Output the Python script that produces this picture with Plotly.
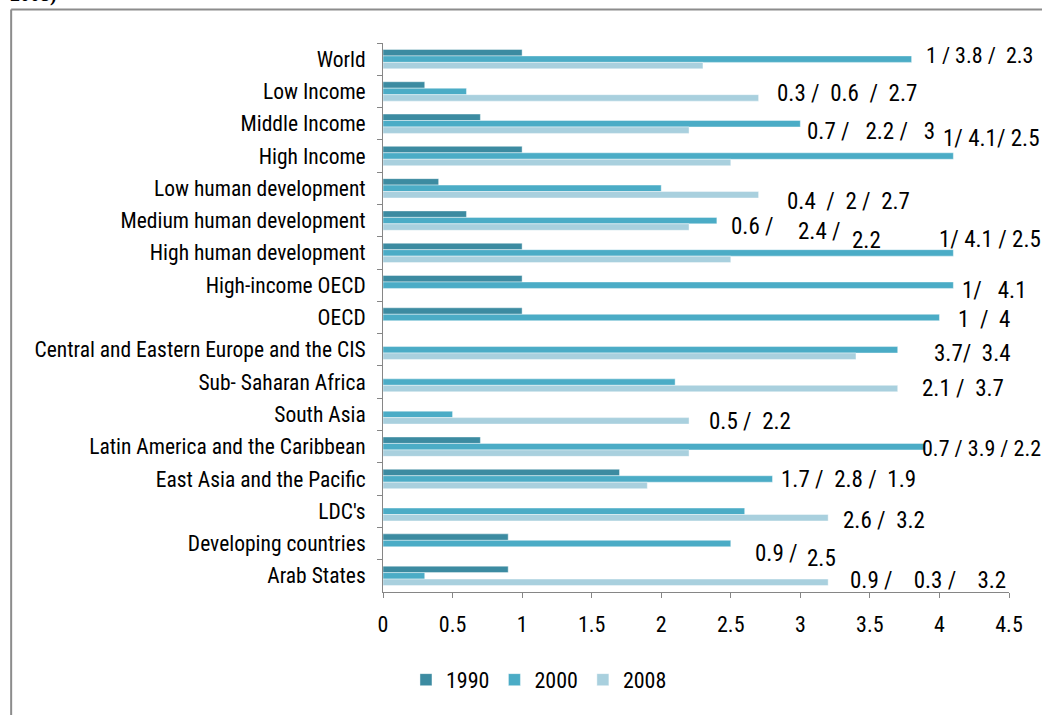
import plotly.graph_objects as go

categories = ["World", "Low Income", "Middle Income", "High Income",
              "Low human development", "Medium human development",
              "High human development", "High-income OECD", "OECD",
              "Central and Eastern Europe and the CIS", "Sub- Saharan Africa",
              "South Asia", "Latin America and the Caribbean",
              "East Asia and the Pacific", "LDC's", "Developing countries",
              "Arab States"]
years = ["1990", "2000", "2008"]
v1990 = [1, 0.3, 0.7, 1, 0.4, 0.6, 1, 1, 1, None, None, None, 0.7, 1.7, None, 0.9, 0.9]
v2000 = [3.8, 0.6, 3.0, 4.1, 2.0, 2.4, 4.1, 4.1, 4.0, 3.7, 2.1, 0.5, 3.9, 2.8, 2.6, 2.5, 0.3]
v2008 = [2.3, 2.7, 2.2, 2.5, 2.7, 2.2, 2.5, None, None, 3.4, 3.7, 2.2, 2.2, 1.9, 3.2, None, 3.2]
x_ticks = [0, 0.5, 1, 1.5, 2, 2.5, 3, 3.5, 4, 4.5]

# value label texts (as hand-placed in the original), with their category
label_texts = ["1 / 3.8 /  2.3", "0.3 /  0.6  /  2.7", "0.7 /   2.2 /   3",
               "1/ 4.1/ 2.5", "0.4  /  2 /  2.7", "0.6 /", "2.4 /", "2.2",
               "1/ 4.1 / 2.5", "1/   4.1", "1  /  4", "3.7/  3.4", "2.1 /  3.7",
               "0.5 /  2.2", "0.7 / 3.9 / 2.2", "1.7 /  2.8 /  1.9", "2.6 /  3.2",
               "0.9 /", "2.5", "0.9 /    0.3 /    3.2"]
label_cats = ["World", "Low Income", "Middle Income", "High Income",
              "Low human development", "Medium human development",
              "Medium human development", "Medium human development",
              "High human development", "High-income OECD", "OECD",
              "Central and Eastern Europe and the CIS", "Sub- Saharan Africa",
              "South Asia", "Latin America and the Caribbean",
              "East Asia and the Pacific", "LDC's", "Developing countries",
              "Developing countries", "Arab States"]
# placement (x in axis units, vertical pixel shift, font size)
label_x = [3.89, 2.82, 3.03, 4.01, 2.89, 2.49, 2.97, 3.36, 3.98, 4.15, 4.12,
           3.95, 3.86, 2.33, 3.86, 2.85, 3.29, 2.66, 3.03, 3.34]
label_dy = [4, -2, -8, 18, -13, -6, -11, -20, 13, -5, -2, -4, -6, -7, -2, -1, -9, -10, -15, -5]
label_size = [22, 23, 23, 23, 23, 23, 23, 23, 23, 23, 23, 23, 23, 23, 22, 23, 23, 23, 23, 23]

colors = ["#3C8BA1", "#4BACC6", "#A9D0DE"]
FONT = "Liberation Sans Narrow, Arial Narrow, Roboto Condensed, Liberation Sans, sans-serif"

fig = go.Figure()
for name, vals, col in zip(years, [v1990, v2000, v2008], colors):
    fig.add_trace(go.Bar(y=categories, x=vals, name=name, orientation="h",
                         marker=dict(color=col, line=dict(color="rgba(255,255,255,0.7)", width=0.6))))

annotations = []
for t, c, x, dy, s in zip(label_texts, label_cats, label_x, label_dy, label_size):
    annotations.append(dict(x=x, y=c, xref="x", yref="y", text=t, showarrow=False,
                            xanchor="left", yanchor="middle", yshift=dy,
                            font=dict(family=FONT, size=s, color="#000000")))
annotations.append(dict(x=-0.599, y=1.063, xref="paper", yref="paper", text="<b>2008)</b>",
                        showarrow=False, xanchor="left", yanchor="bottom",
                        font=dict(family="Liberation Serif, serif", size=20, color="#000")))

# outer frame lines
shapes = [
    dict(type="line", xref="paper", yref="paper", x0=-0.594, x1=1.06, y0=1.061, y1=1.061,
         line=dict(color="#8C8C8C", width=2)),
    dict(type="line", xref="paper", yref="paper", x0=-0.594, x1=-0.594, y0=1.061, y1=-0.23,
         line=dict(color="#8C8C8C", width=2)),
]

fig.update_layout(
    width=1042, height=715,
    margin=dict(l=383, r=33, t=43, b=123),
    paper_bgcolor="white", plot_bgcolor="white",
    barmode="group", bargap=0.4, bargroupgap=0,
    font=dict(family=FONT, size=18, color="#000"),
    showlegend=True,
    legend=dict(orientation="h", x=0.0367, xanchor="left", y=-0.16, yanchor="middle",
                font=dict(family=FONT, size=22), traceorder="normal", itemwidth=30),
    annotations=annotations,
    shapes=shapes,
)
fig.update_xaxes(range=[0, 4.5], tickvals=x_ticks, ticks="outside", ticklen=5,
                 tickcolor="#868686", showline=True, linecolor="#868686", linewidth=1,
                 showgrid=False, zeroline=False, tickfont=dict(size=22),
                 ticklabelstandoff=8)
fig.update_yaxes(autorange="reversed", type="category", ticks="outside", ticklen=5,
                 tickson="boundaries", tickcolor="#868686", showline=True,
                 linecolor="#868686", linewidth=1, showgrid=False,
                 tickfont=dict(size=21.5), ticklabelstandoff=12)

fig.write_html("out.html", config={"displayModeBar": False},
               post_script="document.body.style.margin='0px';")
